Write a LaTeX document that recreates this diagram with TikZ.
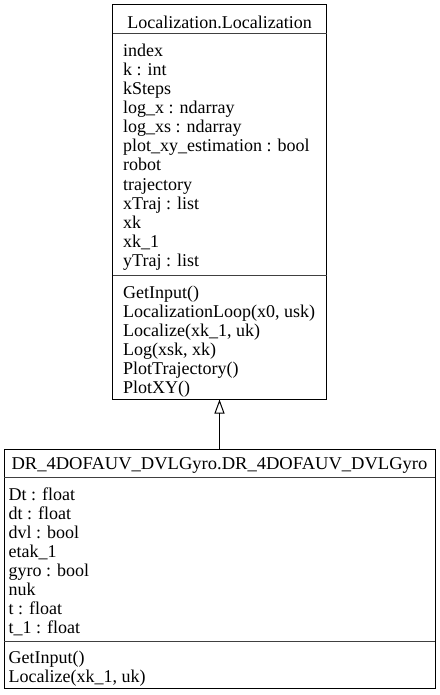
\documentclass[tikz,border=0pt]{standalone}
\usepackage{fontspec}
\setmainfont{Liberation Serif}
\usetikzlibrary{arrows.meta}

\begin{document}
\begin{tikzpicture}[x=1pt,y=-1pt,
  classbox/.style={draw=black,line width=1pt,inner sep=0pt},
  member/.style={anchor=base west,inner sep=0pt,font=\fontsize{18}{19}\selectfont},
  classname/.style={anchor=base,inner sep=0pt,font=\fontsize{18}{19}\selectfont},
  sep/.style={draw=black!75,line width=1pt},
  inherit/.style={-{Triangle[open,width=10pt,length=14pt]},line width=1pt}]
\useasboundingbox (0,0) rectangle (439,695);
% base class
\node[classbox,minimum width=214pt,minimum height=394pt] (loc) at (219.5,202) {};
\draw[sep] (112.5,34) -- (326.5,34);
\draw[sep] (112.5,275) -- (326.5,275);
\node[classname] (loctitle) at (219.5,29) {Localization.Localization};
\node[member] (la1) at (123,57) {index};
\node[member] (la2) at (123,76) {k : int};
\node[member] (la3) at (123,95) {kSteps};
\node[member] (la4) at (123,114) {log\_x : ndarray};
\node[member] (la5) at (123,133) {log\_xs : ndarray};
\node[member] (la6) at (123,152) {plot\_xy\_estimation : bool};
\node[member] (la7) at (123,171) {robot};
\node[member] (la8) at (123,190) {trajectory};
\node[member] (la9) at (123,209) {xTraj : list};
\node[member] (la10) at (123,228) {xk};
\node[member] (la11) at (123,247) {xk\_1};
\node[member] (la12) at (123,266) {yTraj : list};
\node[member] (lm1) at (123,298) {GetInput()};
\node[member] (lm2) at (123,317) {LocalizationLoop(x0, usk)};
\node[member] (lm3) at (123,336) {Localize(xk\_1, uk)};
\node[member] (lm4) at (123,355) {Log(xsk, xk)};
\node[member] (lm5) at (123,374) {PlotTrajectory()};
\node[member] (lm6) at (123,393) {PlotXY()};
% derived class
\node[classbox,minimum width=431pt,minimum height=239pt] (dr) at (219.5,568.5) {};
\draw[sep] (4,477) -- (435,477);
\draw[sep] (4,641) -- (435,641);
\node[classname] (drtitle) at (219.5,469) {\scalebox{1.03}[1]{DR\_4DOFAUV\_DVLGyro.DR\_4DOFAUV\_DVLGyro}};
\node[member] (da1) at (8.5,500) {Dt : float};
\node[member] (da2) at (8.5,519) {dt : float};
\node[member] (da3) at (8.5,538) {dvl : bool};
\node[member] (da4) at (8.5,557) {etak\_1};
\node[member] (da5) at (8.5,576) {gyro : bool};
\node[member] (da6) at (8.5,595) {nuk};
\node[member] (da7) at (8.5,614) {t : float};
\node[member] (da8) at (8.5,633) {t\_1 : float};
\node[member] (dm1) at (8.5,663) {GetInput()};
\node[member] (dm2) at (8.5,682) {Localize(xk\_1, uk)};
% inheritance
\draw[inherit] (dr.north) -- (loc.south);
\end{tikzpicture}
\end{document}
